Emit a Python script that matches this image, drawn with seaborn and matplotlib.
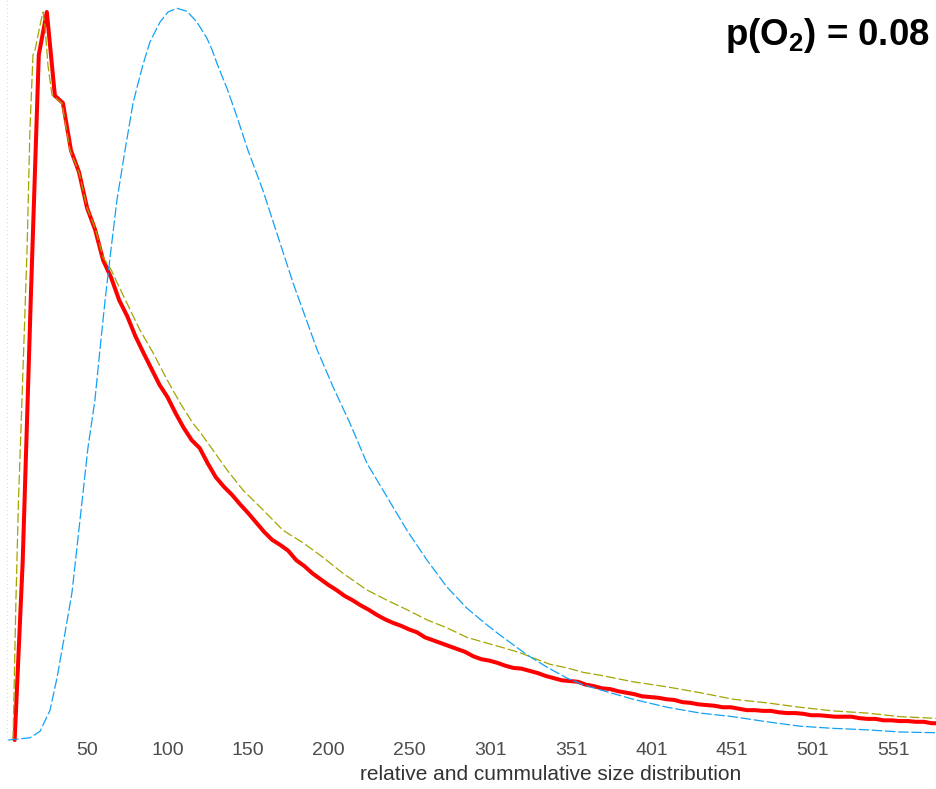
import numpy as np
import pandas as pd
import matplotlib
matplotlib.use("Agg")
import matplotlib.pyplot as plt
import seaborn as sns

# ---- measured size distribution (red, thick) ----
rel_size = [5, 10, 15, 20, 25, 30, 35, 40, 45, 50, 55, 60, 65, 70, 75, 80, 85, 90, 95,
            100, 105, 110, 115, 120, 125, 130, 135, 140, 145, 150, 155, 160, 165, 170,
            175, 180, 185, 190, 195, 200, 205, 210, 215, 220, 225, 230, 235, 240, 245,
            250, 255, 260, 265, 270, 275, 280, 285, 290, 295, 300, 305, 310, 315, 320,
            325, 330, 335, 340, 345, 350, 355, 360, 365, 370, 375, 380, 385, 390, 395,
            400, 405, 410, 415, 420, 425, 430, 435, 440, 445, 450, 455, 460, 465, 470,
            475, 480, 485, 490, 495, 500, 505, 510, 515, 520, 525, 530, 535, 540, 545,
            550, 555, 560, 565, 570, 575, 580]
rel_value = [0.0, 0.245, 0.604, 0.941, 1.0, 0.885, 0.875, 0.810, 0.780, 0.731, 0.701,
             0.659, 0.635, 0.604, 0.582, 0.555, 0.532, 0.510, 0.488, 0.471, 0.449, 0.429,
             0.412, 0.401, 0.380, 0.361, 0.348, 0.337, 0.324, 0.312, 0.299, 0.286, 0.275,
             0.268, 0.260, 0.247, 0.239, 0.229, 0.221, 0.213, 0.206, 0.198, 0.192, 0.185,
             0.179, 0.172, 0.166, 0.161, 0.157, 0.152, 0.148, 0.141, 0.137, 0.133, 0.129,
             0.125, 0.121, 0.115, 0.111, 0.109, 0.106, 0.102, 0.099, 0.098, 0.095, 0.092,
             0.088, 0.085, 0.082, 0.081, 0.080, 0.076, 0.074, 0.071, 0.070, 0.067, 0.065,
             0.063, 0.060, 0.059, 0.058, 0.056, 0.055, 0.052, 0.051, 0.049, 0.048, 0.047,
             0.045, 0.045, 0.043, 0.041, 0.041, 0.040, 0.040, 0.038, 0.037, 0.037, 0.036,
             0.034, 0.034, 0.033, 0.032, 0.032, 0.032, 0.030, 0.029, 0.029, 0.027, 0.027,
             0.026, 0.026, 0.025, 0.025, 0.023, 0.023]

# ---- fitted distribution (olive, dashed) ----
fit_size = [4.0, 5.8, 7.4, 9.6, 12.7, 14.5, 16.4, 17.7, 20.8, 22.6, 23.9, 25.7, 28.2,
            34.4, 39.4, 45, 50, 55, 60, 65, 68.7, 74.8, 82.9, 91, 99.7, 107.8, 115.8,
            120.2, 128.3, 137, 147, 159.4, 171.8, 184.2, 196.6, 209, 224, 236.4, 248.8,
            261.3, 273.7, 286.1, 298.6, 306.7, 319, 327, 337.7, 348.3, 358.2, 368.8,
            389.3, 410.4, 431, 451.5, 472.6, 493, 513.6, 534.7, 555.3, 575.8, 580]
fit_value = [0.0, 0.192, 0.330, 0.470, 0.673, 0.838, 0.941, 0.948, 0.982, 1.0, 0.980,
             0.927, 0.886, 0.875, 0.810, 0.780, 0.731, 0.703, 0.663, 0.646, 0.628, 0.600,
             0.563, 0.532, 0.495, 0.463, 0.435, 0.423, 0.398, 0.371, 0.343, 0.316, 0.288,
             0.271, 0.251, 0.229, 0.206, 0.192, 0.179, 0.165, 0.154, 0.141, 0.133, 0.128,
             0.120, 0.113, 0.104, 0.099, 0.093, 0.089, 0.080, 0.073, 0.065, 0.056, 0.051,
             0.045, 0.040, 0.037, 0.032, 0.030, 0.029]

# ---- model curve (blue, dashed) ----
model_size = [1, 14.5, 20.8, 27, 31.3, 36.3, 40.6, 45.6, 50.6, 54.9, 58, 61.2, 64.3,
              68.6, 73.6, 78.6, 81.7, 84.8, 89.1, 95.3, 100.3, 105.9, 112.1, 118.3,
              124.5, 127.7, 130.8, 137, 143.2, 150, 159.3, 169.9, 178, 188.6, 193, 202.9,
              213.4, 224, 236.4, 248.8, 261.3, 273.7, 286.1, 298.6, 306.7, 323.4, 335.9,
              348.3, 358.2, 368.8, 389.3, 410.4, 431, 451.5, 472.6, 493, 513.6, 534.7,
              555.3, 577.6]
model_value = [0.0, 0.003, 0.012, 0.041, 0.085, 0.147, 0.202, 0.302, 0.402, 0.467,
               0.536, 0.604, 0.663, 0.742, 0.810, 0.875, 0.902, 0.928, 0.959, 0.986,
               1.0, 1.005, 1.001, 0.986, 0.964, 0.948, 0.929, 0.895, 0.856, 0.810, 0.755,
               0.683, 0.628, 0.563, 0.536, 0.485, 0.435, 0.380, 0.334, 0.288, 0.247,
               0.210, 0.181, 0.158, 0.144, 0.117, 0.100, 0.085, 0.076, 0.069, 0.056,
               0.045, 0.037, 0.032, 0.025, 0.019, 0.016, 0.014, 0.011, 0.010]

tick_pos = [50, 100, 150, 200, 250, 301, 351, 401, 451, 501, 551]
tick_labels = ["50", "100", "150", "200", "250", "301", "351", "401", "451", "501", "551"]

sns.set_theme(style="white")
plt.rcParams["font.family"] = ["Liberation Sans", "DejaVu Sans"]
plt.rcParams["lines.scale_dashes"] = False
plt.rcParams["mathtext.fontset"] = "custom"
plt.rcParams["mathtext.rm"] = "Liberation Sans:bold"
plt.rcParams["mathtext.bf"] = "Liberation Sans:bold"
plt.rcParams["mathtext.it"] = "Liberation Sans:bold"

rel_df = pd.DataFrame({"size": rel_size, "value": rel_value})
fit_df = pd.DataFrame({"size": fit_size, "value": fit_value})
model_df = pd.DataFrame({"size": model_size, "value": model_value})

fig = plt.figure(figsize=(9.36, 7.89), dpi=100)
ax = fig.add_axes([0.0, 49 / 789, 1.0, 740 / 789])

# faint dotted reference line at size zero
ax.axvline(0, color="#d0d0d0", lw=0.8, ls=(0, (0.6, 2.2)), zorder=0)

sns.lineplot(data=rel_df, x="size", y="value", ax=ax, color="#ff0000",
             linewidth=2.9, estimator=None, sort=False, clip_on=False, zorder=3)
sns.lineplot(data=fit_df, x="size", y="value", ax=ax, color="#a3a500",
             linewidth=0.9, estimator=None, sort=False, clip_on=False,
             dashes=False, zorder=4).lines[-1].set_dashes([7.0, 2.2])
sns.lineplot(data=model_df, x="size", y="value", ax=ax, color="#12a2f5",
             linewidth=0.9, estimator=None, sort=False, clip_on=False,
             dashes=False, zorder=5).lines[-1].set_dashes([7.5, 2.0])

ax.set_xlim(-4.1, 577.6)
ax.set_ylim(0, 740 / 728)
ax.set_xticks(tick_pos)
ax.set_xticklabels(tick_labels)
ax.set_yticks([])
ax.tick_params(axis="x", length=0, pad=1.5, labelsize=14, labelcolor="#4d4d4d")
ax.set_xlabel("")
ax.set_ylabel("")
for sp in ax.spines.values():
    sp.set_visible(False)
ax.set_facecolor("white")

# axis title, centred on the full panel width
fig.text(551 / 936, 1 - 775 / 789, "relative and cummulative size distribution",
         ha="center", va="center", fontsize=15, color="#333333")

fig.text(930 / 936, 1 - 45 / 789, r"p(O$_\mathbf{2}$) = 0.08", ha="right",
         va="baseline", fontsize=26.4, fontweight="bold", color="black")

fig.savefig("out.png", dpi=100, facecolor="white")
